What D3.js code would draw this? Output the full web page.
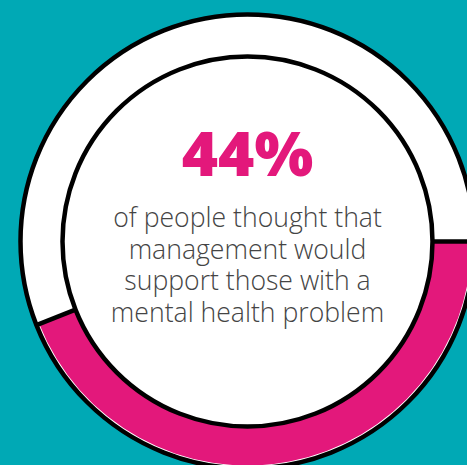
<!DOCTYPE html>
<html><head><meta charset="utf-8">
<script src="https://cdn.jsdelivr.net/npm/d3@7"></script>
<style>html,body{margin:0;padding:0;background:#00a9b5;overflow:hidden}</style>
</head><body>
<script>
const percentValue = [44];
const headline = ["44%"];
const bodyLines = ["of people thought that","management would","support those with a","mental health problem"];

const W = 467, H = 465;
const cx = 247.5, cy = 241.5;
const svg = d3.select("body").append("svg").attr("width", W).attr("height", H);
svg.append("rect").attr("width", W).attr("height", H).attr("fill", "#00a9b5");
const g = svg.append("g").attr("transform", `translate(${cx},${cy})`);

const rOut = 227, rIn = 185;
g.append("circle").attr("r", rOut).attr("fill", "#fff").attr("stroke", "#000").attr("stroke-width", 4.5);

const start = Math.PI / 2;
const angle = d3.scaleLinear().domain([0, 100]).range([0, 2 * Math.PI]);
const end = start + angle(percentValue[0]);
const arc = d3.arc().innerRadius(rIn).outerRadius(rOut - 3).startAngle(start).endAngle(end);
g.append("path").attr("d", arc()).attr("fill", "#e3187b");

// divider lines
[start, end].forEach(a => {
  g.append("line")
    .attr("x1", rIn * Math.sin(a)).attr("y1", -rIn * Math.cos(a))
    .attr("x2", rOut * Math.sin(a)).attr("y2", -rOut * Math.cos(a))
    .attr("stroke", "#000").attr("stroke-width", 4.5);
});

g.append("circle").attr("r", rIn).attr("fill", "#fff").attr("stroke", "#000").attr("stroke-width", 4.5);

g.append("text").text(headline[0])
  .attr("x", 0).attr("y", 176 - cy)
  .attr("text-anchor", "middle")
  .attr("font-family", "'Open Sans', sans-serif").attr("font-weight", 800)
  .attr("font-size", 62).attr("fill", "#e3187b");

const body = g.append("text")
  .attr("text-anchor", "middle")
  .attr("font-family", "'Open Sans', sans-serif").attr("font-weight", 300)
  .attr("font-size", 26.6).attr("fill", "#444");
body.selectAll("tspan").data(bodyLines).enter().append("tspan")
  .text(d => d)
  .attr("x", 0).attr("y", (d, i) => 227 + i * 31.7 - cy);
</script>
</body></html>
